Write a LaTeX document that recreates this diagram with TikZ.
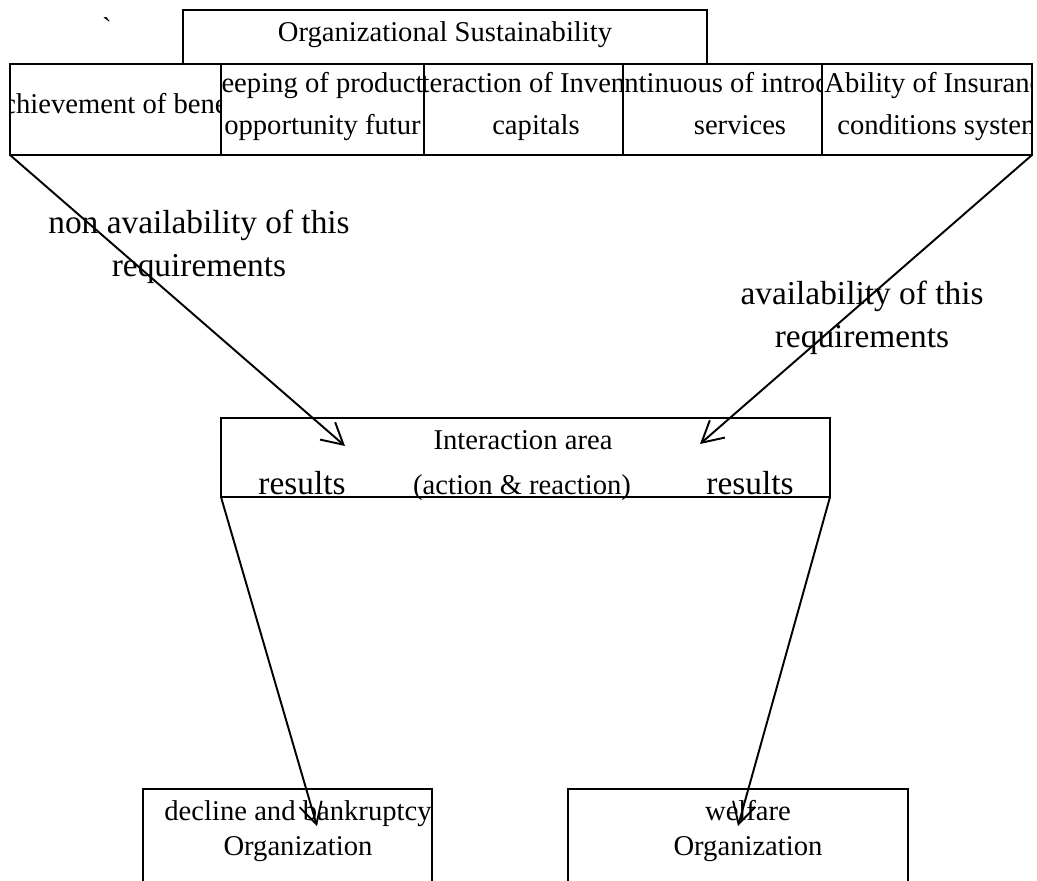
\documentclass[tikz,border=0pt]{standalone}
\usepackage{fontspec}
\setmainfont{Liberation Serif}
\usetikzlibrary{arrows.meta,fit}

\tikzset{
  box/.style={draw,line width=1.1pt,inner sep=0pt,outer sep=0pt},
  lbl/.style={inner sep=0pt,anchor=base,font=\fontsize{16.3}{20}\selectfont},
  biglbl/.style={inner sep=0pt,anchor=base,font=\fontsize{19}{24}\selectfont},
  arr/.style={line width=1.1pt,-{Straight Barb[length=4.2mm,width=4.6mm,line width=1.1pt]}}
}

\begin{document}
\begin{tikzpicture}[x=0.02cm,y=-0.02cm]
\useasboundingbox (0,0) rectangle (1037,880);
\clip (0,0) rectangle (1037,880);
\pgfmathsetmacro{\rowtop}{64}
\pgfmathsetmacro{\rowbot}{155}
\pgfmathsetmacro{\lineone}{92}
\pgfmathsetmacro{\linetwo}{134}
% header
\node[box,fit={(183,10) (707,\rowtop)}] (title) {};
\node[lbl] (titletxt) at (445,41) {Organizational Sustainability};
\node[lbl] (tick) at (107,37) {\textasciigrave};
% row of requirements
\node[box,fit={(10,\rowtop) (221,\rowbot)}] (req1) {};
\node[box,fit={(221,\rowtop) (424,\rowbot)}] (req2) {};
\node[box,fit={(424,\rowtop) (623,\rowbot)}] (req3) {};
\node[box,fit={(623,\rowtop) (822,\rowbot)}] (req4) {};
\node[box,fit={(822,\rowtop) (1032,\rowbot)}] (req5) {};
\begin{scope}
  \clip (req1.south west) rectangle (req1.north east);
  \node[lbl] (req1a) at (115.5,113) {chievement of bene};
\end{scope}
\begin{scope}
  \clip (req2.south west) rectangle (req2.north east);
  \node[lbl] (req2a) at (322.5,\lineone) {eeping of product};
  \node[lbl] (req2b) at (322.5,\linetwo) {opportunity futur};
\end{scope}
\begin{scope}
  \clip (req3.south west) rectangle (req3.north east);
  \node[lbl] (req3a) at (523.5,\lineone) {teraction of Inven};
  \node[lbl] (req3b) at (536,\linetwo) {capitals};
\end{scope}
\begin{scope}
  \clip (req4.south west) rectangle (req4.north east);
  \node[lbl,anchor=base west] (req4a) at (624,\lineone) {ntinuous of introd};
  \node[lbl] (req4b) at (740,\linetwo) {services};
\end{scope}
\begin{scope}
  \clip (req5.south west) rectangle (req5.north east);
  \node[lbl,anchor=base west] (req5a) at (824,\lineone) {Ability of Insuranc};
  \node[lbl,anchor=base west] (req5b) at (837,\linetwo) {conditions system};
\end{scope}
% side labels
\node[biglbl] (nona) at (199,233) {non availability of this};
\node[biglbl] (nonb) at (199,276) {requirements};
\node[biglbl] (avaa) at (862,304) {availability of this};
\node[biglbl] (avab) at (862,347) {requirements};
% interaction area
\node[box,fit={(221,418) (830,497)}] (inter) {};
\node[lbl] (intera) at (523,449) {Interaction area};
\node[lbl] (interb) at (522,494) {(action \& reaction)};
\node[biglbl] (resl) at (302,494) {results};
\node[biglbl] (resr) at (750,494) {results};
% outcomes
\node[box,fit={(143,789) (432,920)}] (decline) {};
\node[lbl] (declinea) at (298,820) {decline and bankruptcy};
\node[lbl] (declineb) at (298,855) {Organization};
\node[box,fit={(568,789) (908,920)}] (welfare) {};
\node[lbl] (welfarea) at (748,820) {welfare};
\node[lbl] (welfareb) at (748,855) {Organization};
% connectors
\coordinate (tipa) at (345,446);
\coordinate (tipb) at (700,444);
\coordinate (tipc) at (317,826);
\coordinate (tipd) at (738,826);
\draw[arr] (req1.south west) -- (tipa);
\draw[arr] (req5.south east) -- (tipb);
\draw[arr] (inter.south west) -- (tipc);
\draw[arr] (inter.south east) -- (tipd);
\end{tikzpicture}
\end{document}
